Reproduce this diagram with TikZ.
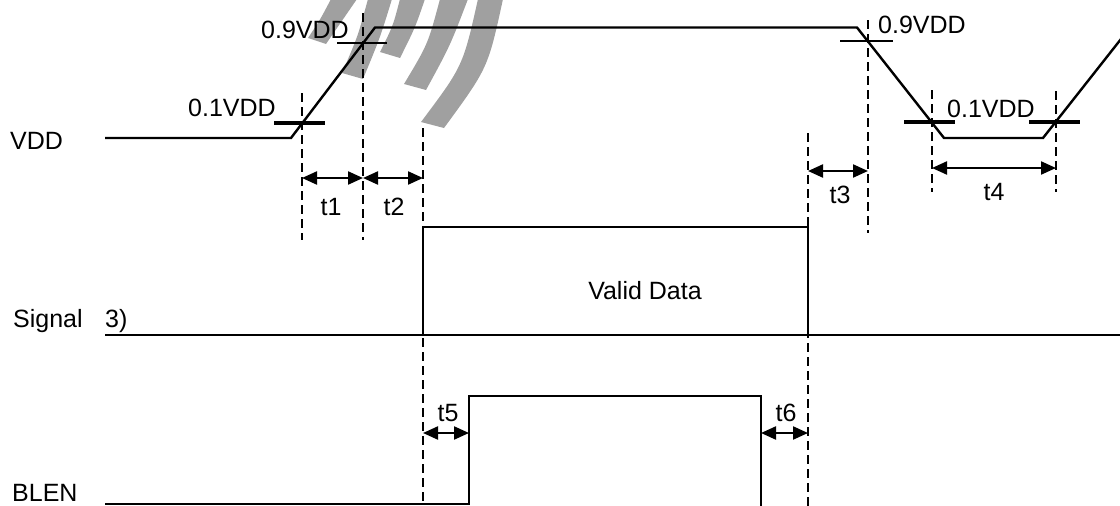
\documentclass[tikz,border=0pt]{standalone}
\usepackage{fontspec}
\setmainfont{Liberation Sans}
\usetikzlibrary{arrows.meta}
\definecolor{band}{RGB}{160,160,160}
\tikzset{
  wave/.style={line width=2.4pt, line join=miter},
  tickthin/.style={line width=2.4pt},
  tickthick/.style={line width=4pt},
  guide/.style={line width=2.4pt, dash pattern=on 9pt off 5pt},
  dim/.style={line width=2.2pt, {Triangle[length=15pt,width=13pt]}-{Triangle[length=15pt,width=13pt]}},
  lbl/.style={font=\fontsize{25}{30}\selectfont, inner sep=0pt, anchor=base},
  lblw/.style={lbl, anchor=base west},
  bandfill/.style={fill=band, draw=none}
}
\begin{document}
\begin{tikzpicture}[x=1pt,y=-1pt]
\useasboundingbox (0,0) rectangle (1120,506);

% grey watermark bands
\fill[bandfill] (331,-1) -- (357,-1) .. controls (342,22) .. (326,44) -- (308,38) .. controls (320,20) .. (331,-1) -- cycle;
\fill[bandfill] (368,-1) -- (392,-1) .. controls (380,38) .. (363,79) -- (342,73) .. controls (358,36) .. (368,-1) -- cycle;
\fill[bandfill] (400,-1) -- (425,-1) .. controls (415,28) .. (400,58) -- (380,52) .. controls (393,26) .. (400,-1) -- cycle;
\fill[bandfill] (440,-1) -- (468,-1) .. controls (450,46) .. (426,90) -- (404,84) .. controls (428,44) .. (440,-1) -- cycle;
\fill[bandfill] (478,-1) -- (503,-1) .. controls (488,68) .. (444,128) -- (421,122) .. controls (463,66) .. (478,-1) -- cycle;

% VDD waveform points
\coordinate (v0) at (105,138);
\coordinate (v1) at (291,138);
\coordinate (v2) at (375,27.5);
\coordinate (v3) at (857,27.5);
\coordinate (v4) at (944,138);
\coordinate (v5) at (1043,138);
\coordinate (v6) at (1121,39);
\draw[wave] (v0) -- (v1) -- (v2) -- (v3) -- (v4) -- (v5) -- (v6);

% threshold ticks
\coordinate (a1) at (274,123); \coordinate (a2) at (325,123);
\coordinate (b1) at (337,43);  \coordinate (b2) at (387,43);
\coordinate (c1) at (840,41);  \coordinate (c2) at (893,41);
\coordinate (e1) at (904,122); \coordinate (e2) at (955,122);
\coordinate (f1) at (1029,122);\coordinate (f2) at (1080,122);
\draw[tickthick] (a1) -- (a2);
\draw[tickthin] (b1) -- (b2);
\draw[tickthin] (c1) -- (c2);
\draw[tickthick] (e1) -- (e2);
\draw[tickthick] (f1) -- (f2);

% dashed guides
\coordinate (g1t) at (302,93);  \coordinate (g1b) at (302,240);
\coordinate (g2t) at (363,13);  \coordinate (g2b) at (363,240);
\coordinate (g3t) at (423,128); \coordinate (g3b) at (423,506);
\coordinate (g4t) at (808,133); \coordinate (g4b) at (808,506);
\coordinate (g5t) at (868,20);  \coordinate (g5b) at (868,233);
\coordinate (g6t) at (932,90);  \coordinate (g6b) at (932,192);
\coordinate (g7t) at (1056,91); \coordinate (g7b) at (1056,192);
\foreach \g in {1,...,7} \draw[guide] (g\g t) -- (g\g b);

% Signal
\coordinate (s0) at (105,335);
\coordinate (s1) at (423,335);
\coordinate (s2) at (423,227);
\coordinate (s3) at (808,227);
\coordinate (s4) at (808,335);
\coordinate (s5) at (1120,335);
\draw[wave] (s0) -- (s5);
\draw[wave] (s1) -- (s2) -- (s3) -- (s4);

% BLEN
\coordinate (l0) at (105,504);
\coordinate (l1) at (469,504);
\coordinate (l2) at (469,396);
\coordinate (l3) at (761,396);
\coordinate (l4) at (761,507);
\draw[wave] (l0) -- (l1) -- (l2) -- (l3) -- (l4);

% dimension arrows
\coordinate (t1a) at (302,178); \coordinate (t1b) at (363,178);
\coordinate (t2b) at (423,178);
\coordinate (t3a) at (808,171); \coordinate (t3b) at (868,171);
\coordinate (t4a) at (932,168); \coordinate (t4b) at (1056,168);
\coordinate (t5a) at (423,433); \coordinate (t5b) at (469,433);
\coordinate (t6a) at (761,433); \coordinate (t6b) at (808,433);
\draw[dim] (t1a) -- (t1b);
\draw[dim] (t1b) -- (t2b);
\draw[dim] (t3a) -- (t3b);
\draw[dim] (t4a) -- (t4b);
\draw[dim] (t5a) -- (t5b);
\draw[dim] (t6a) -- (t6b);

% labels
\node[lblw] (nvdd) at (10,149) {VDD};
\node[lblw] (nsig) at (13,327) {Signal};
\node[lblw] (nthree) at (105,327) {3)};
\node[lblw] (nblen) at (12,501) {BLEN};
\node[lbl] (nvalid) at (645,299) {Valid Data};
\node[lblw] (l01a) at (188,116) {0.1VDD};
\node[lblw] (l09a) at (261,38) {0.9VDD};
\node[lblw] (l09b) at (878,33) {0.9VDD};
\node[lblw] (l01b) at (947,117) {0.1VDD};
\node[lbl] (nt1) at (331,215) {t1};
\node[lbl] (nt2) at (394,215) {t2};
\node[lbl] (nt3) at (840,203) {t3};
\node[lbl] (nt4) at (994,200) {t4};
\node[lbl] (nt5) at (448,421) {t5};
\node[lbl] (nt6) at (786,421) {t6};
\end{tikzpicture}
\end{document}
